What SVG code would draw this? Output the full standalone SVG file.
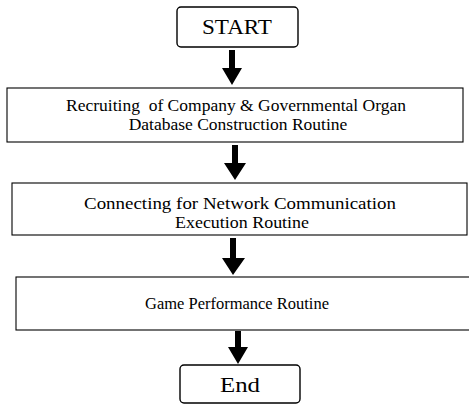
<svg xmlns="http://www.w3.org/2000/svg" width="469" height="405" viewBox="0 0 469 405">
  <style>
    .box { fill: #ffffff; stroke: #000000; stroke-width: 1.1; }
    .term { fill: #ffffff; stroke: #000000; stroke-width: 1.4; }
    .label { font-family: "Liberation Serif", "Times New Roman", serif; fill: #000000; text-anchor: middle; white-space: pre; }
    .body { font-size: 17.5px; }
    .arrow { fill: #000000; stroke: none; }
  </style>
  <rect width="469" height="405" fill="#ffffff"/>

  <g id="start">
    <rect class="term" x="177" y="7" width="121" height="40" rx="4"/>
    <text class="label" x="237" y="34" font-size="20" textLength="70" lengthAdjust="spacingAndGlyphs">START</text>
  </g>

  <g id="database">
    <rect class="box" x="7" y="88" width="456" height="54"/>
    <text class="label body" x="236" y="111" xml:space="preserve">Recruiting  of Company &amp; Governmental Organ</text>
    <text class="label body" x="238" y="130">Database Construction Routine</text>
  </g>

  <g id="network">
    <rect class="box" x="12" y="183" width="455" height="52"/>
    <text class="label body" x="240" y="209" textLength="312" lengthAdjust="spacingAndGlyphs">Connecting for Network Communication</text>
    <text class="label body" x="242" y="228" textLength="134" lengthAdjust="spacingAndGlyphs">Execution Routine</text>
  </g>

  <g id="game">
    <rect class="box" x="16" y="277" width="460" height="53"/>
    <text class="label body" x="237" y="309" textLength="184" lengthAdjust="spacingAndGlyphs">Game Performance Routine</text>
  </g>

  <g id="end">
    <rect class="term" x="180" y="365" width="120" height="38" rx="4"/>
    <text class="label" x="240" y="392" font-size="20" textLength="40" lengthAdjust="spacingAndGlyphs">End</text>
  </g>

  <g id="connectors">
    <!-- block arrows: shaft plus triangular head -->
    <path class="arrow" d="M229,50 H235 V68 H242 L232,85 L222,68 H229 Z"/>
    <path class="arrow" d="M232,145 H238 V163 H246 L235,180 L224,163 H232 Z"/>
    <path class="arrow" d="M230,238 H236 V258 H245 L233,275 L222,258 H230 Z"/>
    <path class="arrow" d="M235,331 H241 V347 H248 L238,364 L228,347 H235 Z"/>
  </g>
</svg>
